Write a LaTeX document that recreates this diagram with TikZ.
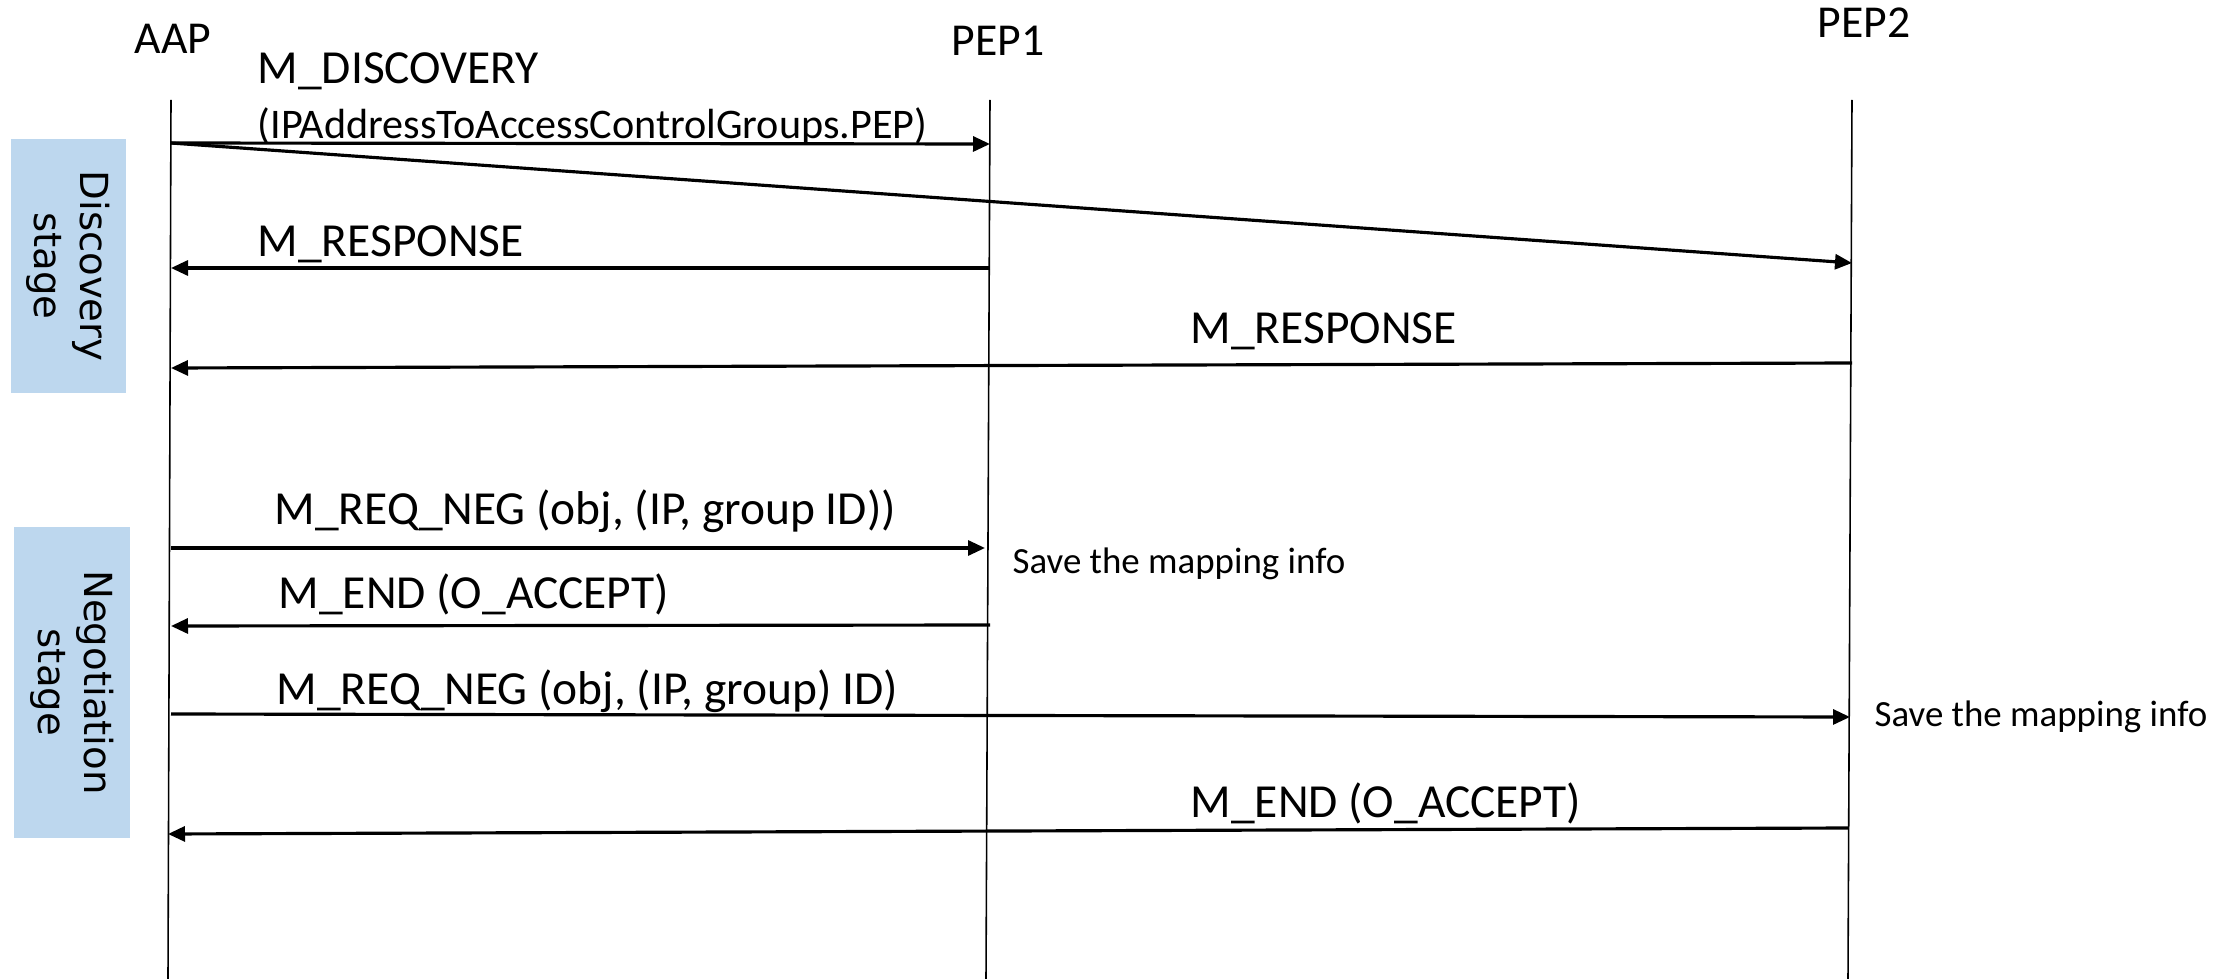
\documentclass[tikz,border=0pt]{standalone}
\usepackage{fontspec}
\setmainfont{Carlito}
\newfontfamily\stagefont{DejaVu Sans}
\usetikzlibrary{arrows.meta}
\definecolor{stageblue}{HTML}{BDD7EE}

\begin{document}
\begin{tikzpicture}[
    msg/.style={line width=0.9pt,-{Triangle[length=1.7mm,width=1.5mm]}},
    life/.style={line width=0.45pt},
    head/.style={inner sep=0pt,font=\fontsize{13}{15}\selectfont},
    lbl/.style={anchor=west,inner sep=0pt,font=\fontsize{13.5}{16}\selectfont},
    note/.style={anchor=west,inner sep=0pt,font=\fontsize{10.5}{12}\selectfont},
    stagebox/.style={fill=stageblue,rotate=-90,align=center,inner sep=0pt,
      font=\stagefont\fontsize{11}{13}\selectfont}]
  \useasboundingbox (0,0) rectangle (22.39,-9.79);

  %participants
  \node[head] (aap) at (1.73,-0.39) {AAP};
  \node[head] (pep1) at (9.98,-0.41) {PEP1};
  \node[head] (pep2) at (18.64,-0.23) {PEP2};

  %lifelines
  \coordinate (aapT) at (1.71,-1.00);  \coordinate (aapB) at (1.68,-9.79);
  \coordinate (pep1T) at (9.90,-1.00); \coordinate (pep1B) at (9.86,-9.79);
  \coordinate (pep2T) at (18.52,-1.00); \coordinate (pep2B) at (18.48,-9.79);
  \draw[life] (aapT) -- (aapB);
  \draw[life] (pep1T) -- (pep1B);
  \draw[life] (pep2T) -- (pep2B);

  %stages
  \node[stagebox,minimum width=2.54cm,minimum height=1.15cm] (disc) at (0.685,-2.66) {Discovery\\stage};
  \node[stagebox,minimum width=3.11cm,minimum height=1.16cm] (nego) at (0.72,-6.825) {Negotiation\\stage};

  %discovery stage
  \coordinate (d0) at (1.71,-1.43);
  \coordinate (d1) at (9.90,-1.44);
  \coordinate (d2) at (18.52,-2.63);
  \coordinate (r1a) at (9.90,-2.68);  \coordinate (r1b) at (1.71,-2.68);
  \coordinate (r2a) at (18.52,-3.63); \coordinate (r2b) at (1.71,-3.68);
  \draw[msg] (d0) -- (d1);
  \draw[msg] (d0) -- (d2);
  \draw[msg] (r1a) -- (r1b);
  \draw[msg] (r2a) -- (r2b);
  \node[lbl] (disc1) at (2.57,-0.71) {M\_DISCOVERY};
  \node[lbl,font=\fontsize{12}{14}\selectfont] (disc2) at (2.57,-1.26) {(IPAddressToAccessControlGroups.PEP)};
  \node[lbl] (resp1) at (2.57,-2.44) {M\_RESPONSE};
  \node[lbl] (resp2) at (11.90,-3.31) {M\_RESPONSE};

  %negotiation stage
  \coordinate (n1a) at (1.71,-5.48);  \coordinate (n1b) at (9.85,-5.48);
  \coordinate (e1a) at (9.90,-6.25);  \coordinate (e1b) at (1.71,-6.26);
  \coordinate (n2a) at (1.71,-7.14);  \coordinate (n2b) at (18.50,-7.17);
  \coordinate (e2a) at (18.48,-8.28); \coordinate (e2b) at (1.68,-8.34);
  \draw[msg] (n1a) -- (n1b);
  \draw[msg] (e1a) -- (e1b);
  \draw[msg] (n2a) -- (n2b);
  \draw[msg] (e2a) -- (e2b);
  \node[lbl] (neg1) at (2.74,-5.11) {M\_REQ\_NEG (obj, (IP, group ID))};
  \node[note] (save1) at (10.12,-5.64) {Save the mapping info};
  \node[lbl] (end1) at (2.78,-5.94) {M\_END (O\_ACCEPT)};
  \node[lbl] (neg2) at (2.76,-6.91) {M\_REQ\_NEG (obj, (IP, group) ID)};
  \node[note] (save2) at (18.74,-7.17) {Save the mapping info};
  \node[lbl] (end2) at (11.90,-8.03) {M\_END (O\_ACCEPT)};
\end{tikzpicture}
\end{document}
